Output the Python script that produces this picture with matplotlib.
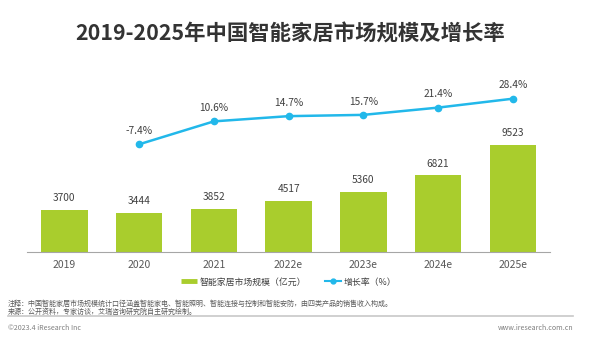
import matplotlib
matplotlib.use("Agg")
import matplotlib.pyplot as plt
from matplotlib.lines import Line2D

plt.rcParams['font.family'] = ['Noto Sans CJK SC', 'DejaVu Sans']

years = ['2019', '2020', '2021', '2022e', '2023e', '2024e', '2025e']
market = [3700, 3444, 3852, 4517, 5360, 6821, 9523]
growth_years = ['2020', '2021', '2022e', '2023e', '2024e', '2025e']
growth = [-7.4, 10.6, 14.7, 15.7, 21.4, 28.4]

bar_color = '#A9CD2D'
line_color = '#22B8EA'
text_color = '#404040'

fig = plt.figure(figsize=(6, 3.57), dpi=100)
ax = fig.add_axes([0.045, 0.295, 0.872, 0.481])

x = list(range(len(years)))
ax.bar(x, market, width=0.62, color=bar_color, zorder=2)
for xi, v in zip(x, market):
    ax.annotate(f'{v}', (xi, v), xytext=(0, 5), textcoords='offset points',
                ha='center', va='bottom', fontsize=7.3, color=text_color)

ax.set_xlim(-0.5, 6.5)
ax.set_ylim(0, 15370)
ax.set_xticks(x)
ax.set_xticklabels(years, fontsize=7.5, color='#595959')
ax.tick_params(axis='x', length=0, pad=6)
ax.set_yticks([])
for s in ['top', 'right', 'left']:
    ax.spines[s].set_visible(False)
ax.spines['bottom'].set_color('#A6A6A6')
ax.spines['bottom'].set_linewidth(0.8)

ax2 = ax.twinx()
gx = [years.index(y) for y in growth_years]
ax2.plot(gx, growth, color=line_color, linewidth=1.8, marker='o',
         markersize=4.5, zorder=3)
for xi, v in zip(gx, growth):
    ax2.annotate(f'{v}%', (xi, v), xytext=(0, 6), textcoords='offset points',
                 ha='center', va='bottom', fontsize=7.3, color=text_color)
ax2.set_ylim(-91.7, 43.1)
ax2.set_yticks([])
for s in ['top', 'right', 'left', 'bottom']:
    ax2.spines[s].set_visible(False)

fig.text(0.484, 1 - 34 / 357, '2019-2025年中国智能家居市场规模及增长率',
         ha='center', va='center', fontsize=15.4, fontweight='bold',
         color='#333333')

# legend: thin green strip for the bars, line with dot for growth
handles = [Line2D([0], [0], color=bar_color, linewidth=3.5, solid_capstyle='butt'),
           Line2D([0], [0], color=line_color, linewidth=1.5, marker='o', markersize=3.5)]
fig.legend(handles, ['智能家居市场规模（亿元）', '增长率（%）'],
           loc='center', bbox_to_anchor=(0.481, 1 - 282 / 357), ncol=2,
           frameon=False, fontsize=6.4, handlelength=1.8, columnspacing=2.2,
           handletextpad=0.25, labelcolor='#404040')

note_color = '#595959'
fig.text(8 / 600, 1 - 304 / 357,
         '注释：中国智能家居市场规模统计口径涵盖智能家电、智能照明、智能连接与控制和智能安防，由四类产品的销售收入构成。',
         ha='left', va='center', fontsize=5.05, color=note_color)
fig.text(8 / 600, 1 - 311.5 / 357,
         '来源：公开资料，专家访谈，艾瑞咨询研究院自主研究绘制。',
         ha='left', va='center', fontsize=5.05, color=note_color)
fig.add_artist(Line2D([8 / 600, 573 / 600], [1 - 316 / 357, 1 - 316 / 357],
                      color='#C8C8C8', linewidth=1.2, transform=fig.transFigure))
fig.text(8 / 600, 1 - 328 / 357, '©2023.4 iResearch Inc',
         ha='left', va='center', fontsize=5.1, color='#7F7F7F')
fig.text(573 / 600, 1 - 328 / 357, 'www.iresearch.com.cn',
         ha='right', va='center', fontsize=5.1, color='#7F7F7F')

fig.savefig('out.png', dpi=100)
